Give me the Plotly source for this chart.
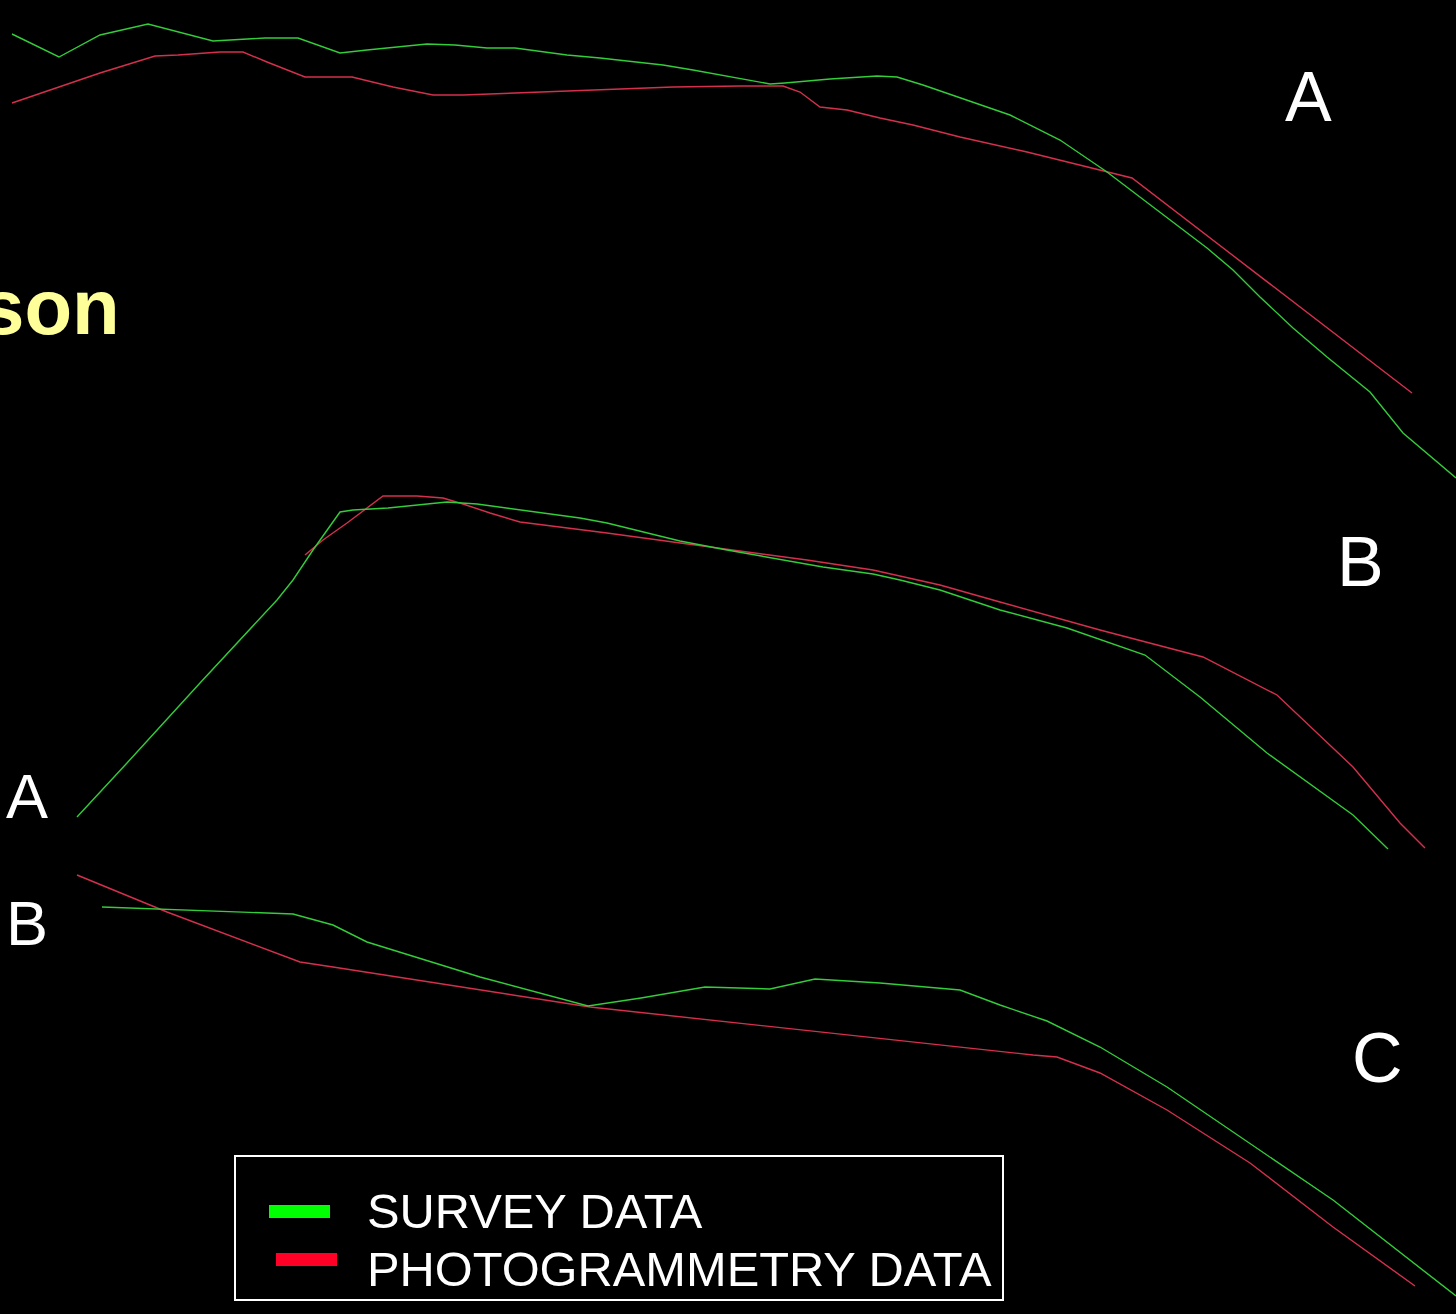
import plotly.graph_objects as go

# Profile A (station, depth)
a_survey_x = [12, 59, 100, 148, 213, 232, 265, 298, 340, 367, 403, 427, 455, 487, 515, 537, 567, 600,
              633, 663, 693, 730, 770, 785, 807, 830, 877, 897, 923, 957, 1010, 1060, 1107, 1207, 1233,
              1260, 1293, 1327, 1370, 1403, 1456]
a_survey_y = [34, 57, 35, 24, 41, 40, 38, 38, 53, 50, 46, 44, 45, 48, 48, 51, 55, 58,
              62, 65, 70, 77, 84, 83, 81, 79, 76, 77, 85, 97, 115, 140, 172, 248, 270,
              297, 328, 357, 392, 433, 478]
a_photo_x = [12, 60, 100, 155, 178, 220, 243, 267, 305, 352, 393, 433, 463, 515, 567, 618, 673, 740,
             783, 800, 813, 820, 847, 880, 913, 960, 1027, 1100, 1132, 1412]
a_photo_y = [103, 87, 73, 56, 55, 52, 52, 62, 77, 77, 87, 95, 95, 93, 91, 89, 87, 86,
             86, 92, 102, 107, 110, 118, 125, 137, 152, 170, 178, 393]

# Profile B
b_survey_x = [77, 127, 200, 277, 293, 313, 340, 353, 388, 410, 447, 477, 507, 540, 580, 607, 640, 680,
              727, 773, 823, 873, 900, 940, 1000, 1067, 1145, 1200, 1267, 1353, 1388]
b_survey_y = [817, 763, 683, 600, 580, 550, 512, 510, 508, 506, 502, 504, 508, 512, 518, 523, 531, 541,
              550, 558, 567, 574, 580, 590, 610, 628, 655, 697, 753, 815, 849]
b_photo_x = [305, 323, 347, 373, 383, 417, 443, 463, 490, 520, 560, 607, 673, 740, 807, 873, 940,
             1000, 1100, 1203, 1277, 1353, 1400, 1425]
b_photo_y = [555, 540, 523, 503, 496, 496, 498, 504, 513, 522, 527, 533, 542, 551, 560, 570, 585,
             602, 630, 657, 695, 767, 823, 848]

# Profile C
c_survey_x = [102, 128, 182, 293, 333, 367, 480, 588, 641, 705, 770, 815, 880, 960, 1000, 1047, 1100,
              1167, 1333, 1456]
c_survey_y = [907, 908, 910, 914, 925, 942, 977, 1006, 998, 987, 989, 979, 983, 990, 1005, 1021, 1047,
              1087, 1200, 1296]
c_photo_x = [77, 167, 300, 333, 590, 1000, 1033, 1057, 1083, 1100, 1167, 1250, 1333, 1415]
c_photo_y = [875, 912, 962, 967, 1007, 1052, 1055, 1057, 1067, 1073, 1110, 1163, 1227, 1286]

profiles = [
    (a_survey_x, a_survey_y, a_photo_x, a_photo_y),
    (b_survey_x, b_survey_y, b_photo_x, b_photo_y),
    (c_survey_x, c_survey_y, c_photo_x, c_photo_y),
]

SURVEY_LINE = "#33cc3a"
PHOTO_LINE = "#d4304e"
SURVEY_KEY = "#00ff00"
PHOTO_KEY = "#ff0026"
FONT = "Liberation Sans, Arial, sans-serif"

fig = go.Figure()
for sx, sy, px, py in profiles:
    fig.add_trace(go.Scatter(x=px, y=py, mode="lines", line=dict(color=PHOTO_LINE, width=1.4),
                             showlegend=False, hoverinfo="skip"))
    fig.add_trace(go.Scatter(x=sx, y=sy, mode="lines", line=dict(color=SURVEY_LINE, width=1.4),
                             showlegend=False, hoverinfo="skip"))

annotations = [
    dict(text="son", x=122, y=307, xanchor="right", yanchor="middle",
         font=dict(family=FONT, size=78, color="#ffff99", weight="bold")),
    dict(text="A", x=1308, y=97, xanchor="center", yanchor="middle",
         font=dict(family=FONT, size=70, color="white")),
    dict(text="B", x=1360, y=562, xanchor="center", yanchor="middle",
         font=dict(family=FONT, size=70, color="white")),
    dict(text="C", x=1377, y=1058, xanchor="center", yanchor="middle",
         font=dict(family=FONT, size=70, color="white")),
    dict(text="A", x=27, y=796, xanchor="center", yanchor="middle",
         font=dict(family=FONT, size=63, color="white")),
    dict(text="B", x=27, y=923, xanchor="center", yanchor="middle",
         font=dict(family=FONT, size=63, color="white")),
    dict(text="SURVEY DATA", x=365, y=1211, xanchor="left", yanchor="middle",
         font=dict(family=FONT, size=48.8, color="white")),
    dict(text="PHOTOGRAMMETRY DATA", x=365, y=1269, xanchor="left", yanchor="middle",
         font=dict(family=FONT, size=48.8, color="white")),
]
for a in annotations:
    a.update(xref="x", yref="y", showarrow=False)

shapes = [
    # legend frame and keys
    dict(type="rect", x0=235, y0=1156, x1=1003, y1=1300, line=dict(color="white", width=2)),
    dict(type="rect", x0=269, y0=1205, x1=330, y1=1218, line=dict(width=0), fillcolor=SURVEY_KEY),
    dict(type="rect", x0=276, y0=1253, x1=337, y1=1266, line=dict(width=0), fillcolor=PHOTO_KEY),
]
for s in shapes:
    s.update(xref="x", yref="y", layer="above")

fig.update_layout(
    width=1456, height=1314,
    margin=dict(l=0, r=0, t=0, b=0),
    paper_bgcolor="black", plot_bgcolor="black",
    xaxis=dict(range=[0, 1456], visible=False, fixedrange=True),
    yaxis=dict(range=[1314, 0], visible=False, fixedrange=True),
    annotations=annotations, shapes=shapes,
    showlegend=False,
)

fig.write_html("out.html", config={"displayModeBar": False})
